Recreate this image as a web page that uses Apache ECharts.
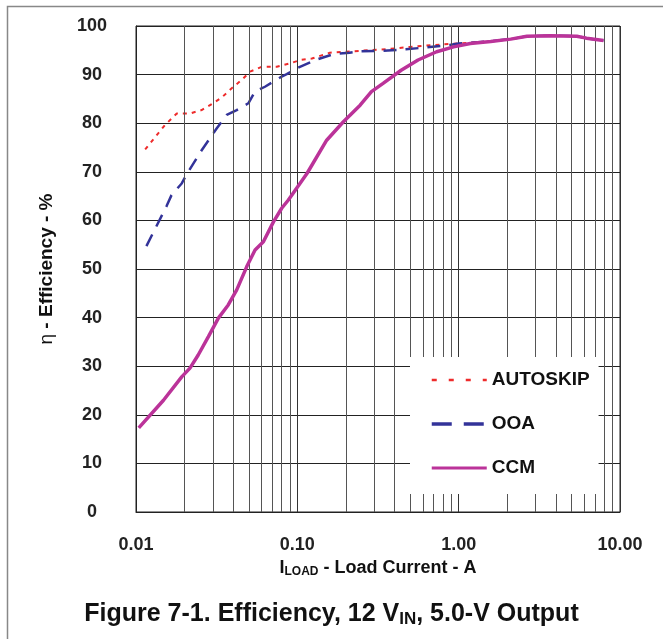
<!DOCTYPE html>
<html>
<head>
<meta charset="utf-8">
<script src="https://cdn.jsdelivr.net/npm/echarts@6/dist/echarts.min.js"></script>
<style>
html,body{margin:0;padding:0;background:#fff;}
#c{width:663px;height:639px;}
</style>
</head>
<body>
<div id="c"></div>
<script>
// ---- data ----
const autoskipX = [0.0114,0.0151,0.0179,0.0216,0.0255,0.0301,0.034,0.0392,0.0452,0.0509,0.06,0.0746,0.09,0.104,0.123,0.159,0.197,0.245,0.312,0.376,0.5,0.71,1.0,1.5,2.1,2.65,3.7,5.4,6.2,7.9];
const autoskipY = [74.6,79.6,82.0,82.0,82.7,84.1,85.3,87.2,88.9,90.6,91.6,91.6,92.3,93.0,93.3,94.5,94.7,94.9,95.1,95.3,95.7,96.1,96.4,96.8,97.3,97.9,98.0,97.9,97.5,97.0];
const ooaX = [0.0116,0.0155,0.0166,0.0192,0.0208,0.0256,0.0316,0.0365,0.0421,0.0497,0.0546,0.063,0.08,0.086,0.099,0.132,0.167,0.211,0.245,0.34,0.47,0.63,0.88,1.0,1.5,2.1,2.65,3.7,5.4,6.2,7.9];
const ooaY = [54.7,63.0,65.2,67.6,69.7,74.5,78.9,81.7,82.7,84.1,86.5,87.5,89.6,90.1,91.3,93.1,94.2,94.5,94.8,94.9,95.2,95.6,96.1,96.4,96.8,97.3,97.9,98.0,97.9,97.5,97.0];
const ccmX = [0.0104,0.0148,0.0192,0.0216,0.0243,0.0281,0.0324,0.0373,0.0421,0.0486,0.0547,0.0616,0.0711,0.080,0.088,0.115,0.152,0.193,0.245,0.288,0.34,0.44,0.56,0.73,0.93,1.18,1.58,2.1,2.65,3.7,5.4,6.2,7.9];
const ccmY = [17.3,23.0,27.8,29.6,32.3,36.1,39.9,42.6,45.7,50.5,53.9,55.6,59.7,62.5,64.2,69.7,76.5,80.3,83.7,86.5,88.2,90.9,93.0,94.7,95.7,96.4,96.8,97.3,97.9,98.0,97.9,97.5,97.0];
const minorGridX = [0.02,0.03,0.04,0.05,0.06,0.07,0.08,0.09,0.2,0.3,0.4,0.5,0.6,0.7,0.8,0.9,2,3,4,5,6,7,8,9];
const seriesNames = ['AUTOSKIP','OOA','CCM'];

const zip = (xs, ys) => xs.map((x, i) => [x, ys[i]]);
const FONT = 'Liberation Sans, Arial, sans-serif';

const chart = echarts.init(document.getElementById('c'), null, {renderer: 'canvas'});
chart.setOption({
  animation: false,
  backgroundColor: '#fff',
  title: {
    text: 'Figure 7-1. Efficiency, 12 V{s|IN}, 5.0-V Output',
    left: 'center',
    top: 596,
    textStyle: {
      fontFamily: FONT, fontSize: 25, fontWeight: 'bold', color: '#111',
      rich: { s: { fontFamily: FONT, fontSize: 17, fontWeight: 'bold', color: '#111', verticalAlign: 'bottom', padding: [10, 0, 0, 0] } }
    }
  },
  graphic: [{
    type: 'rect', left: 5, top: 4, z: -10, silent: true,
    shape: { width: 720, height: 700 },
    style: { fill: 'none', stroke: '#888', lineWidth: 1.5 }
  }],
  legend: {
    orient: 'vertical',
    left: 410, top: 357,
    padding: [13, 9, 16, 20],
    itemGap: 24,
    itemWidth: 55, itemHeight: 14,
    backgroundColor: '#fff',
    z: 10,
    itemStyle: { opacity: 0 },
    data: [
      { name: seriesNames[0], lineStyle: { type: [5, 12], width: 2.5 } },
      { name: seriesNames[1], lineStyle: { type: [20, 12], width: 3.5 } },
      { name: seriesNames[2], lineStyle: { width: 3 } }
    ],
    textStyle: { fontFamily: FONT, fontSize: 19, fontWeight: 'bold', color: '#111', lineHeight: 20 }
  },
  grid: { left: 136, top: 26, right: 43, bottom: 127, show: true, borderColor: '#222', borderWidth: 1 },
  xAxis: {
    type: 'log', logBase: 10, min: 0.01, max: 10,
    name: 'I{s|LOAD} - Load Current - A',
    nameLocation: 'middle', nameGap: 44,
    nameTextStyle: {
      fontFamily: FONT, fontSize: 18, fontWeight: 'bold', color: '#111',
      rich: { s: { fontFamily: FONT, fontSize: 12, fontWeight: 'bold', color: '#111', verticalAlign: 'bottom', padding: [8, 0, 0, 0] } }
    },
    axisLine: { show: true, lineStyle: { color: '#222', width: 1 } },
    axisTick: { show: false },
    axisLabel: { fontFamily: FONT, fontSize: 18, fontWeight: 'bold', color: '#222', margin: 24,
      formatter: v => Number(v).toFixed(2) },
    splitLine: { show: true, lineStyle: { color: '#333', width: 1 } }
  },
  yAxis: {
    type: 'value', min: 0, max: 100, interval: 10,
    name: '{e|η} - Efficiency - %',
    nameLocation: 'middle', nameGap: 80, nameRotate: 90,
    nameTextStyle: {
      fontFamily: FONT, fontSize: 19, fontWeight: 'bold', color: '#111',
      rich: { e: { fontFamily: FONT, fontSize: 19, fontWeight: 'normal', color: '#111' } }
    },
    axisLine: { show: true, lineStyle: { color: '#222', width: 1 } },
    axisTick: { show: false },
    axisLabel: { fontFamily: FONT, fontSize: 18, fontWeight: 'bold', color: '#222', margin: 44, align: 'center' },
    splitLine: { show: true, lineStyle: { color: '#222', width: 1.2 } }
  },
  series: [
    {
      name: 'AUTOSKIP', type: 'line', symbol: 'none', smooth: false,
      data: zip(autoskipX, autoskipY),
      lineStyle: { color: '#EE2B2B', width: 2, type: [4, 5] },
      itemStyle: { color: '#EE2B2B' },
      z: 3,
      markLine: {
        silent: true, symbol: 'none', label: { show: false }, animation: false,
        lineStyle: { color: '#555', width: 1, type: 'solid' },
        emphasis: { disabled: true },
        data: minorGridX.map(v => ({ xAxis: v }))
      }
    },
    {
      name: 'OOA', type: 'line', symbol: 'none',
      data: zip(ooaX, ooaY),
      lineStyle: { color: '#333399', width: 2.5, type: [13, 9] },
      itemStyle: { color: '#333399' },
      z: 4
    },
    {
      name: 'CCM', type: 'line', symbol: 'none',
      data: zip(ccmX, ccmY),
      lineStyle: { color: '#BB3399', width: 3.5 },
      itemStyle: { color: '#BB3399' },
      z: 5
    }
  ]
});
</script>
</body>
</html>
